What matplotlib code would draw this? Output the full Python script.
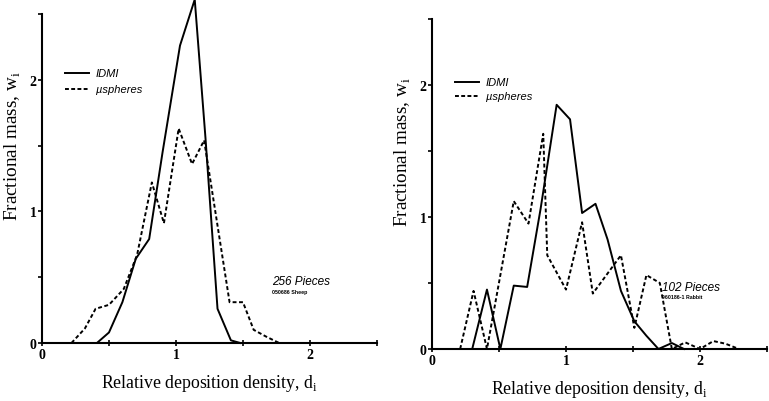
import matplotlib.pyplot as plt
from matplotlib.ticker import MultipleLocator

# sheep (left panel)
sheep_idmi_x = [0.0, 0.41, 0.5, 0.6, 0.7, 0.8, 0.9, 1.03, 1.14, 1.22, 1.31, 1.41, 1.48]
sheep_idmi_y = [0.0, 0.0, 0.08, 0.31, 0.64, 0.79, 1.45, 2.26, 2.61, 1.56, 0.26, 0.02, 0.0]
sheep_mu_x = [0.22, 0.32, 0.40, 0.5, 0.61, 0.71, 0.82, 0.91, 1.02, 1.12, 1.21, 1.40, 1.50, 1.58, 1.67, 1.77]
sheep_mu_y = [0.0, 0.11, 0.26, 0.29, 0.41, 0.67, 1.22, 0.91, 1.63, 1.36, 1.54, 0.31, 0.31, 0.10, 0.05, 0.0]

# rabbit (right panel)
rabbit_idmi_x = [0.0, 0.30, 0.41, 0.51, 0.61, 0.71, 0.81, 0.93, 1.03, 1.12, 1.22, 1.31, 1.41, 1.51, 1.60, 1.69, 1.79, 1.88]
rabbit_idmi_y = [0.0, 0.0, 0.45, 0.0, 0.48, 0.47, 1.06, 1.85, 1.74, 1.03, 1.10, 0.83, 0.44, 0.21, 0.10, 0.0, 0.045, 0.0]
rabbit_mu_x = [0.21, 0.31, 0.41, 0.61, 0.72, 0.83, 0.86, 1.0, 1.12, 1.20, 1.41, 1.51, 1.60, 1.70, 1.79, 1.89, 2.0, 2.1, 2.19, 2.29]
rabbit_mu_y = [0.0, 0.44, 0.0, 1.12, 0.95, 1.63, 0.71, 0.45, 0.96, 0.42, 0.71, 0.16, 0.56, 0.5, 0.0, 0.05, 0.0, 0.06, 0.04, 0.0]

panels = [
    ([0.0546, 0.1443, 0.4356, 0.8184], sheep_idmi_x, sheep_idmi_y, sheep_mu_x, sheep_mu_y,
     "256 Pieces", "050686 Sheep", (2.05, 1.93), 0.60),
    ([0.5618, 0.1294, 0.4356, 0.8209], rabbit_idmi_x, rabbit_idmi_y, rabbit_mu_x, rabbit_mu_y,
     "102 Pieces", "960186-1 Rabbit", (2.02, 1.92), 0.60),
]

fig = plt.figure(figsize=(7.69, 4.02), dpi=100)

for rect, ix, iy, mx, my, pieces, sub, legy, ylab_y in panels:
    ax = fig.add_axes(rect)
    ax.plot(ix, iy, color='black', lw=1.4, clip_on=False)
    ax.plot(mx, my, color='black', lw=1.4, ls=(0, (2.0, 1.3)), clip_on=False)
    ax.set_xlim(0, 2.5)
    ax.set_ylim(0, 2.5)
    for s in ['top', 'right']:
        ax.spines[s].set_visible(False)
    for s in ['left', 'bottom']:
        ax.spines[s].set_linewidth(1.5)
    ax.xaxis.set_major_locator(MultipleLocator(1))
    ax.xaxis.set_minor_locator(MultipleLocator(0.5))
    ax.yaxis.set_major_locator(MultipleLocator(1))
    ax.yaxis.set_minor_locator(MultipleLocator(0.5))
    ax.tick_params(which='both', direction='out', length=3, width=1.2)
    ax.tick_params(axis='x', which='both', direction='inout', length=5)
    for lab in ax.get_xticklabels() + ax.get_yticklabels():
        lab.set_fontweight('bold')
        lab.set_fontsize(10)
        lab.set_family('Liberation Serif')
    ax.tick_params(axis='x', pad=1)
    ax.tick_params(axis='y', pad=1)
    ax.set_xlabel("Relative deposition density, d$_\\mathregular{i}$",
                  family='Liberation Serif', fontsize=12.8, labelpad=8)
    ax.set_ylabel("Fractional mass, w$_\\mathregular{i}$",
                  family='Liberation Serif', fontsize=13.8)
    ax.yaxis.set_label_coords(-0.058, ylab_y)

    # legend drawn by hand
    ax.plot([0.17, 0.35], [legy[0], legy[0]], color='black', lw=1.4)
    ax.plot([0.17, 0.35], [legy[1], legy[1]], color='black', lw=1.4, ls=(0, (2, 1.2)))
    ax.text(0.40, legy[0], "IDMI", style='italic', fontsize=8, va='center', family='Liberation Sans')
    ax.text(0.40, legy[1], "\u00b5spheres", style='italic', fontsize=8, va='center', family='Liberation Sans')

    ax.text(1.72, 0.47, pieces, style='italic', fontsize=8.5, family='Liberation Sans', va='center')
    ax.text(1.72, 0.395, sub, fontsize=3.8, weight='bold', family='Liberation Sans', va='center')

fig.savefig("out.png", dpi=100)
